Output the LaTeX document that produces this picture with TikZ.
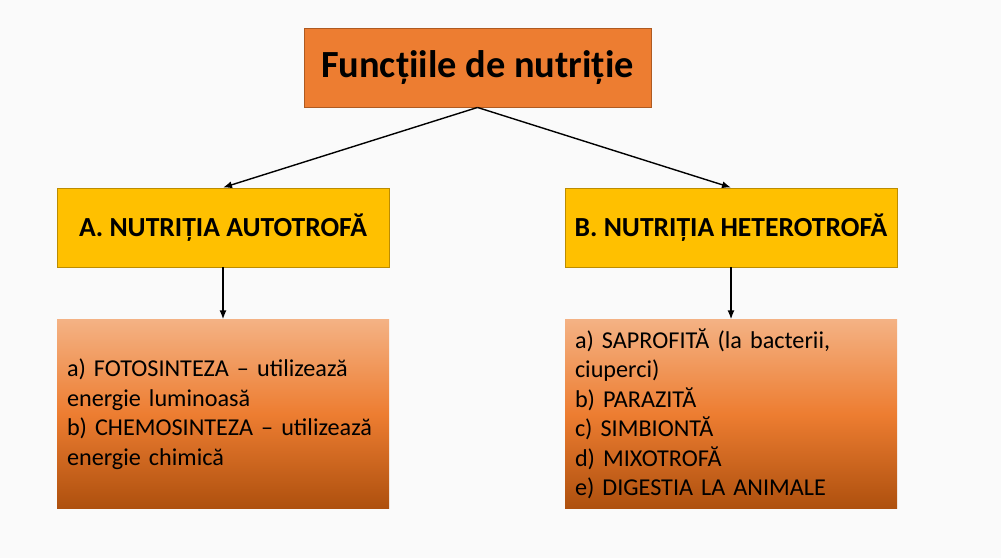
\documentclass[tikz,border=0pt]{standalone}
\usepackage{fontspec}
\setmainfont{Carlito}
\usepackage{xcolor}
\usepackage{tikz}
\usetikzlibrary{arrows}
\usetikzlibrary{arrows.meta}
\usetikzlibrary{positioning}
\definecolor{bgcol}{RGB}{250,250,250}
\definecolor{titlefill}{RGB}{237,125,49}
\definecolor{titleline}{RGB}{174,90,33}
\definecolor{typefill}{RGB}{255,192,0}
\definecolor{typeline}{RGB}{188,140,0}
\definecolor{gradtop}{RGB}{244,178,132}
\definecolor{gradmid}{RGB}{237,125,49}
\definecolor{gradbot}{RGB}{174,80,14}
\tikzset{>=latex}
\tikzstyle{titlebox} = [rectangle, draw=titleline, fill=titlefill, line width=0.9pt, minimum width=347, minimum height=79, inner sep=0, font=\fontsize{38.4}{44}\selectfont\bfseries]
\tikzstyle{typebox} = [rectangle, draw=typeline, fill=typefill, line width=0.9pt, minimum width=332, minimum height=79, inner sep=0, font=\fontsize{27.6}{32}\selectfont\bfseries]
\tikzstyle{listbox} = [rectangle, top color=gradtop, bottom color=gradbot, middle color=gradmid, minimum width=332, minimum height=189, inner xsep=10, inner ysep=0, text width=312, align=left, font=\fontsize{24.2}{29.5}\selectfont]
\tikzstyle{link} = [-{Latex[length=9pt, width=7pt]}, draw=black, line width=1.4pt]

\begin{document}
\begin{tikzpicture}[x=1pt, y=-1pt]
\fill [bgcol] (0,0) rectangle (1001,558);
\useasboundingbox (0,0) rectangle (1001,558);
\node [titlebox] (F) at (477.5, 67.5) {Funcțiile de nutriție};
\node [typebox] (A) at (223, 227.5) {A. NUTRIȚIA AUTOTROFĂ};
\node [typebox] (B) at (731, 227.5) {B. NUTRIȚIA HETEROTROFĂ};
\node [listbox] (LA) at (223, 414) {a) FOTOSINTEZA – utilizează\\ energie luminoasă\\ b) CHEMOSINTEZA – utilizează\\ energie chimică};
\node [listbox] (LB) at (731, 414) {a) SAPROFITĂ (la bacterii,\\ ciuperci)\\ b) PARAZITĂ\\ c) SIMBIONTĂ\\ d) MIXOTROFĂ\\ e) DIGESTIA LA ANIMALE};
\draw [link] (F.south) to (A.north);
\draw [link] (F.south) to (B.north);
\draw [link] (A.south) to (LA.north);
\draw [link] (B.south) to (LB.north);
\end{tikzpicture}
\end{document}
